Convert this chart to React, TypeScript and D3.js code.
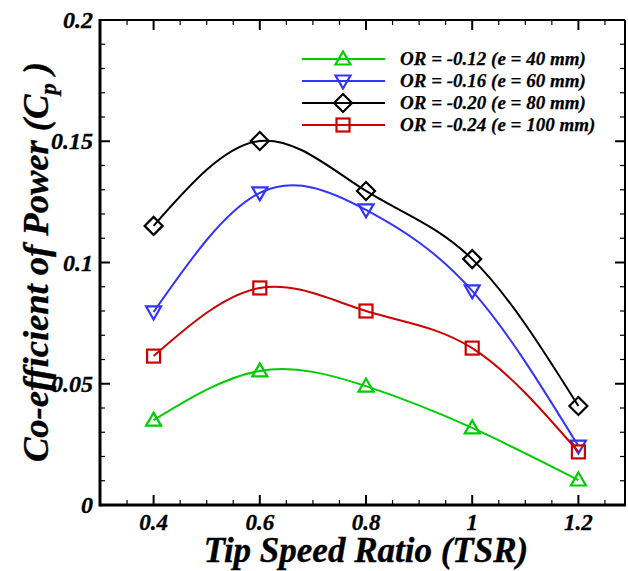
import React from "react";
import * as d3 from "d3";

const tsr = [0.4, 0.6, 0.8, 1.0, 1.2];
const cpOR012 = [0.035, 0.0553, 0.049, 0.0318, 0.0103];
const cpOR016 = [0.0796, 0.1287, 0.1217, 0.0883, 0.0243];
const cpOR020 = [0.1151, 0.1501, 0.1295, 0.1014, 0.0408];
const cpOR024 = [0.0614, 0.0895, 0.080, 0.0647, 0.0219];
const seriesLabels = [
  "OR = -0.12 (e = 40 mm)",
  "OR = -0.16 (e = 60 mm)",
  "OR = -0.20 (e = 80 mm)",
  "OR = -0.24 (e = 100 mm)",
];
const xTicks = [0.4, 0.6, 0.8, 1.0, 1.2];
const xTickLabels = ["0.4", "0.6", "0.8", "1", "1.2"];
const yTicks = [0, 0.05, 0.1, 0.15, 0.2];
const yTickLabels = ["0", "0.05", "0.1", "0.15", "0.2"];

const series = [
  { values: cpOR012, color: "#00cc00", marker: "up", label: seriesLabels[0] },
  { values: cpOR016, color: "#3333ff", marker: "down", label: seriesLabels[1] },
  { values: cpOR020, color: "#000000", marker: "diamond", label: seriesLabels[2] },
  { values: cpOR024, color: "#cc0000", marker: "square", label: seriesLabels[3] },
];

const FONT = "'Liberation Serif', 'Times New Roman', serif";

function Marker({ type, x, y, color }: { type: string; x: number; y: number; color: string }) {
  const sw = 2.2;
  if (type === "square") {
    const s = 6.5;
    return <rect x={x - s} y={y - s} width={2 * s} height={2 * s} fill="none" stroke={color} strokeWidth={sw} />;
  }
  if (type === "diamond") {
    const s = 9;
    return <path d={`M${x},${y - s}L${x + s},${y}L${x},${y + s}L${x - s},${y}Z`} fill="none" stroke={color} strokeWidth={sw} />;
  }
  if (type === "up") {
    const w = 7.5, h = 6.5;
    return <path d={`M${x},${y - h - 1}L${x + w},${y + h - 1}L${x - w},${y + h - 1}Z`} fill="none" stroke={color} strokeWidth={sw} />;
  }
  const w = 7.5, h = 6.5;
  return <path d={`M${x},${y + h + 1}L${x + w},${y - h + 1}L${x - w},${y - h + 1}Z`} fill="none" stroke={color} strokeWidth={sw} />;
}

const textStyle = {
  fontFamily: FONT,
  fontWeight: "bold" as const,
  fontStyle: "italic" as const,
  stroke: "#000",
  strokeWidth: 0.35,
};

export default function App() {
  const W = 628, H = 571;
  const left = 100, right = 625, top = 20, bottom = 505;
  const x = d3.scaleLinear().domain([0.3, 1.3]).range([100.5, 631.5]);
  const y = d3.scaleLinear().domain([0, 0.2]).range([bottom, top]);

  const line = d3
    .line<number>()
    .x((_, i) => x(tsr[i]))
    .y((d) => y(d))
    .curve(d3.curveNatural);

  const xMinor = d3.range(0.3, 1.2901, 0.05).map((v) => +v.toFixed(3));
  const yMinor = d3.range(0, 0.2001, 0.01).map((v) => +v.toFixed(3));
  const isMajorX = (v: number) => Math.abs(v * 5 - Math.round(v * 5)) < 1e-6;
  const isMajorY = (v: number) => Math.abs(v * 20 - Math.round(v * 20)) < 1e-6;

  const legendX1 = 302, legendX2 = 385, legendMX = 343, legendTX = 400;
  const legendY = [59, 81, 103, 125];

  return (
    <svg width={W} height={H} style={{ position: "absolute", left: 0, top: 0, background: "#fff" }}>
      <rect x={0} y={0} width={W} height={H} fill="#fff" />
      {xMinor.map((v, i) => {
        const len = isMajorX(v) ? 10 : 5;
        const xx = x(v);
        if (xx <= left + 1 || xx >= right - 1) return null;
        return (
          <g key={"xt" + i}>
            <line x1={xx} x2={xx} y1={bottom} y2={bottom - len} stroke="#000" strokeWidth={isMajorX(v) ? 2 : 1.2} />
            <line x1={xx} x2={xx} y1={top} y2={top + len} stroke="#000" strokeWidth={isMajorX(v) ? 2 : 1.2} />
          </g>
        );
      })}
      {yMinor.map((v, i) => {
        const len = isMajorY(v) ? 10 : 5;
        const yy = y(v);
        if (yy >= bottom - 1 || yy <= top + 1) return null;
        return (
          <g key={"yt" + i}>
            <line x1={left} x2={left + len} y1={yy} y2={yy} stroke="#000" strokeWidth={isMajorY(v) ? 2 : 1.2} />
            <line x1={right} x2={right - len} y1={yy} y2={yy} stroke="#000" strokeWidth={isMajorY(v) ? 2 : 1.2} />
          </g>
        );
      })}
      <line x1={left} x2={right} y1={top} y2={top} stroke="#000" strokeWidth={2} />
      <line x1={right} x2={right} y1={top} y2={bottom} stroke="#000" strokeWidth={2} />
      <line x1={left} x2={right + 1} y1={bottom} y2={bottom} stroke="#000" strokeWidth={3} />
      <line x1={left} x2={left} y1={top - 1} y2={bottom + 1.5} stroke="#000" strokeWidth={3} />

      {xTicks.map((v, i) => (
        <text key={"xl" + i} x={x(v)} y={530} textAnchor="middle" fontSize={23} {...textStyle}>
          {xTickLabels[i]}
        </text>
      ))}
      {yTicks.map((v, i) => (
        <text key={"yl" + i} x={93} y={y(v) + 8} textAnchor="end" fontSize={24} {...textStyle}>
          {yTickLabels[i]}
        </text>
      ))}

      <text x={366} y={562} textAnchor="middle" fontSize={35} {...textStyle}>
        Tip Speed Ratio (TSR)
      </text>
      <text transform={`translate(48, 262) rotate(-90)`} textAnchor="middle" fontSize={36.5} {...textStyle}>
        Co-efficient of Power (C<tspan fontSize={23} dy={8}>p</tspan>
        <tspan dy={-8}> )</tspan>
      </text>

      {series.map((s, si) => (
        <g key={"s" + si}>
          <path d={line(s.values) || ""} fill="none" stroke={s.color} strokeWidth={2} />
          {s.values.map((v, i) => (
            <Marker key={i} type={s.marker} x={x(tsr[i])} y={y(v)} color={s.color} />
          ))}
        </g>
      ))}

      {series.map((s, si) => (
        <g key={"lg" + si}>
          <line x1={legendX1} x2={legendX2} y1={legendY[si]} y2={legendY[si]} stroke={s.color} strokeWidth={2} />
          <Marker type={s.marker} x={legendMX} y={legendY[si]} color={s.color} />
          <text x={legendTX} y={legendY[si] + 6} fontSize={19} {...textStyle} strokeWidth={0.25}>
            {s.label}
          </text>
        </g>
      ))}
    </svg>
  );
}
